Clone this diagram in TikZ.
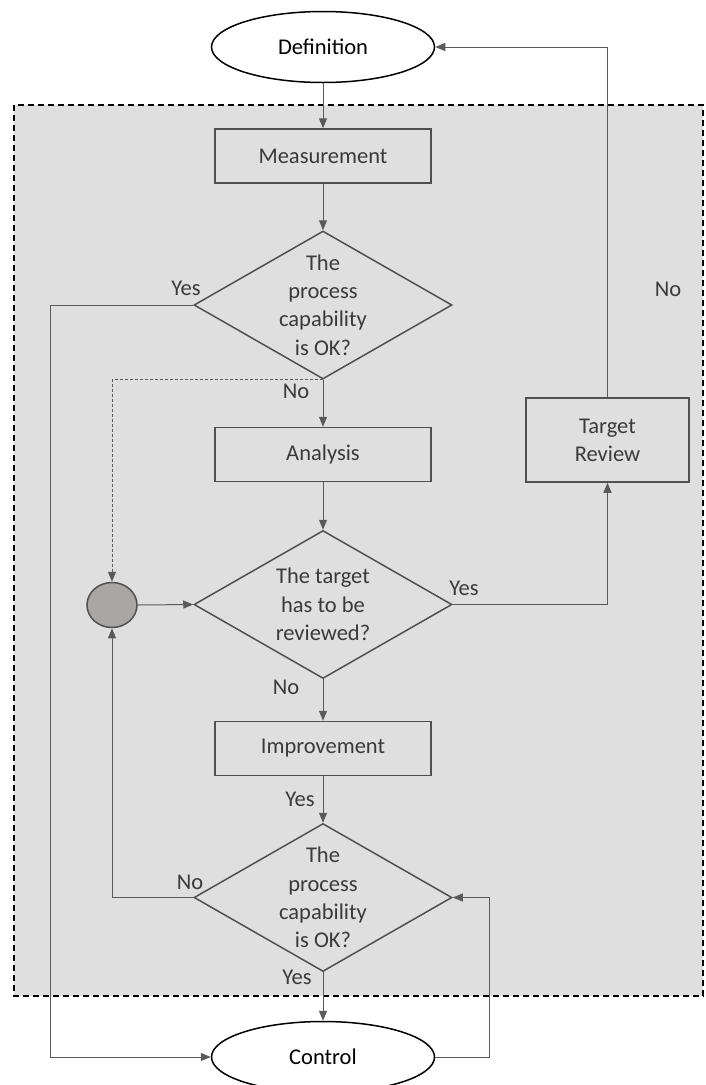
\documentclass[tikz,border=0pt]{standalone}
\usepackage{fontspec}
\setmainfont{Carlito}
\usetikzlibrary{shapes.geometric,arrows.meta}
\definecolor{zone}{HTML}{DFDFDF}
\definecolor{edge}{HTML}{505050}
\definecolor{wire}{HTML}{5A5A5A}
\definecolor{ink}{HTML}{3A3A3A}
\definecolor{dot}{HTML}{A9A6A4}
\tikzset{
  every node/.style={font=\fontsize{22.5}{28.3}\selectfont},
  terminal/.style={ellipse, draw=black, line width=1.5pt, fill=white,
    minimum width=223pt, minimum height=71pt, inner sep=0pt, text=black},
  stepbox/.style={rectangle, draw=edge, line width=1.5pt, fill=zone,
    minimum width=216pt, minimum height=54pt, inner sep=0pt, text=ink, align=center},
  decision/.style={diamond, draw=edge, line width=1.5pt, fill=zone,
    minimum width=258pt, minimum height=148pt, inner sep=0pt},
  qtext/.style={text=ink, align=center, inner sep=0pt},
  junction/.style={ellipse, draw=edge, line width=1.5pt, fill=dot,
    minimum width=50pt, minimum height=45pt, inner sep=0pt},
  tag/.style={text=ink, inner sep=0pt},
  flow/.style={draw=wire, line width=1pt, -{Triangle[length=10pt,width=8pt]}},
  hint/.style={flow, dash pattern=on 3pt off 2pt},
}
\begin{document}
\begin{tikzpicture}[x=1pt, y=-1pt]
\useasboundingbox (0,0) rectangle (706,1085);

% shaded phase region
\draw[fill=zone, draw=black, line width=1.3pt, dash pattern=on 6pt off 4pt]
  (14,105) rectangle (703,996);

% nodes
\node[terminal] (def) at (323,47) {Definition};
\node[stepbox] (meas) at (323,156) {Measurement};
\node[decision] (d1) at (323,305) {};
\node[qtext] at (d1.center) {The\\process\\capability\\is OK?};
\node[stepbox] (ana) at (323,454.5) {Analysis};
\node[decision] (d2) at (323,604.5) {};
\node[qtext] at (d2.center) {The target\\has to be\\reviewed?};
\node[stepbox] (imp) at (323,748.5) {Improvement};
\node[decision] (d3) at (323,897.5) {};
\node[qtext] at (d3.center) {The\\process\\capability\\is OK?};
\node[terminal] (ctrl) at (323,1057) {Control};
\node[stepbox, minimum width=163pt, minimum height=84pt] (tr) at (607.5,440) {Target\\Review};
\node[junction] (jn) at (112,605) {};

% rails for the routed connectors
\coordinate (yesrail) at (50,0);
\coordinate (backrail) at (489,0);

% connectors
\draw[flow] (def) -- (meas);
\draw[flow] (meas) -- (d1.north);
\draw[flow] (d1.south) -- (ana);
\draw[flow] (ana) -- (d2.north);
\draw[flow] (d2.south) -- (imp);
\draw[flow] (imp) -- (d3.north);
\draw[flow] (d3.south) -- (ctrl);
\draw[flow] (d1.west) -| (yesrail |- ctrl.west) -- (ctrl.west);
\draw[hint] (d1.south) -| (jn.north);
\draw[flow] (jn.east) -- (d2.west);
\draw[flow] (d2.east) -| (tr.south);
\draw[flow] (tr.north) |- (def.east);
\draw[flow] (d3.west) -| (jn.south);
\draw[flow] (ctrl.east) -| (backrail |- d3.east) -- (d3.east);

% branch labels
\node[tag] (l1) at (186,288) {Yes};
\node[tag] (l2) at (668,289) {No};
\node[tag] (l3) at (296,391) {No};
\node[tag] (l4) at (464,588) {Yes};
\node[tag] (l5) at (286,687) {No};
\node[tag] (l6) at (300,799) {Yes};
\node[tag] (l7) at (190,882) {No};
\node[tag] (l8) at (297,977) {Yes};
\end{tikzpicture}
\end{document}
